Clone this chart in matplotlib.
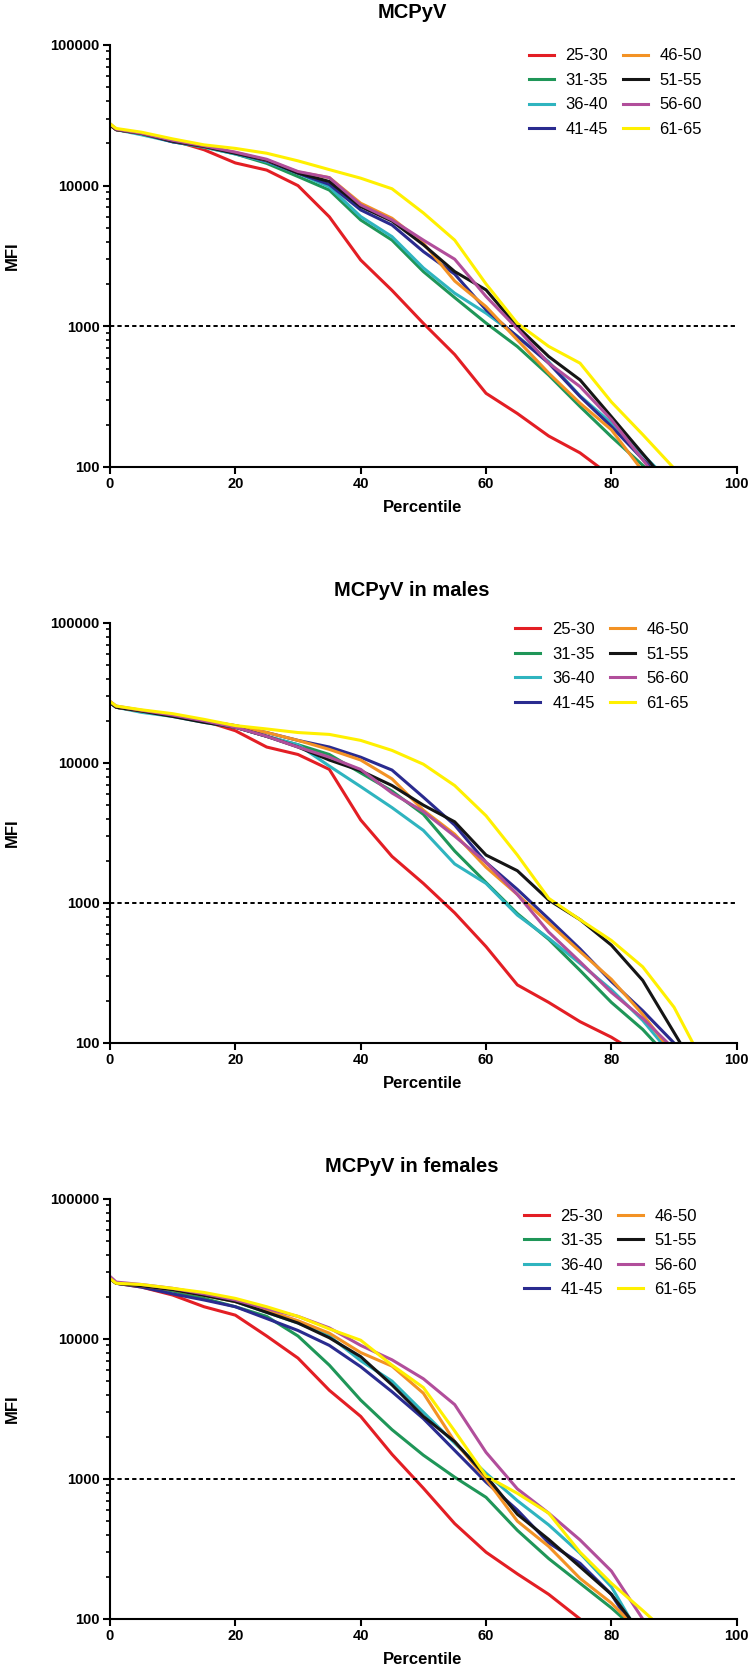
import matplotlib
matplotlib.use("Agg")
import matplotlib.pyplot as plt
from matplotlib.ticker import LogLocator, NullFormatter, FixedLocator

plt.rcParams["font.family"] = ["Liberation Sans", "DejaVu Sans"]

# percentile grid shared by all curves; each curve runs down to MFI = 100 at its end percentile
pct = [0, 1, 5, 10, 15, 20, 25, 30, 35, 40, 45, 50, 55, 60, 65, 70, 75, 80, 85, 90]

groups = ["25-30", "31-35", "36-40", "41-45", "46-50", "51-55", "56-60", "61-65"]
colors = ["#e31e24", "#1f9658", "#2fb4bf", "#2a2b8f", "#f39224", "#151515", "#b14e9b", "#fff000"]

titles = ["MCPyV", "MCPyV in males", "MCPyV in females"]

# MFI values read on the pct grid, one list per age group
all_mfi = [
    [27000, 25000, 23500, 21000, 18000, 14500, 12900, 10000, 6000, 2960, 1800, 1050, 630, 334, 240, 166, 126],
    [27500, 25000, 23500, 20500, 18800, 16800, 14400, 11600, 9300, 5700, 4100, 2450, 1600, 1055, 718, 450, 269, 164],
    [27000, 25000, 23000, 20500, 18800, 16800, 14800, 12250, 9800, 6030, 4340, 2600, 1720, 1240, 850, 560, 320, 205],
    [27000, 25000, 23500, 20500, 19000, 17000, 15000, 12250, 10200, 6720, 5250, 3400, 2350, 1310, 845, 547, 317, 194],
    [27000, 25000, 23500, 20800, 19000, 17200, 15200, 12500, 11400, 7500, 5860, 3900, 2100, 1380, 800, 465, 284, 184],
    [27000, 25000, 23500, 20700, 19000, 17000, 15200, 12300, 10700, 7100, 5600, 3800, 2450, 1815, 995, 610, 416, 228],
    [27500, 25200, 23600, 21000, 19200, 17300, 15400, 12600, 11400, 7300, 5700, 4100, 3000, 1630, 960, 547, 373, 217],
    [27500, 25500, 24000, 21500, 19500, 18400, 17000, 15000, 13000, 11300, 9500, 6400, 4100, 2000, 1050, 720, 547, 290, 170],
]
all_end = [78, 85.3, 87, 86.2, 84.5, 86.8, 85.9, 89.8]

male_mfi = [
    [27000, 25000, 23500, 22000, 20000, 17000, 13000, 11500, 9000, 3920, 2150, 1380, 850, 488, 260, 195, 142, 110],
    [27000, 25000, 23500, 22000, 20000, 18000, 15500, 13500, 11500, 8500, 6300, 4300, 2350, 1400, 840, 550, 330, 195, 125],
    [27000, 25000, 23000, 21500, 19500, 18000, 15500, 13500, 9500, 6780, 4800, 3300, 1900, 1380, 820, 560, 370, 240, 145],
    [27000, 25000, 23500, 22000, 20000, 18500, 16500, 14500, 13000, 11000, 8900, 5700, 3600, 1950, 1250, 770, 470, 275, 170],
    [27500, 25000, 23500, 22000, 20000, 18500, 16500, 14500, 12500, 10500, 7700, 4600, 3100, 1800, 1150, 720, 450, 285, 160],
    [27000, 25000, 23500, 21500, 19500, 18000, 15500, 13000, 10500, 8800, 6900, 5000, 3800, 2200, 1700, 1050, 760, 500, 280],
    [27500, 25500, 23800, 22000, 20000, 18000, 15500, 13000, 11000, 9000, 6100, 4500, 3000, 1950, 1150, 620, 380, 230, 150],
    [27500, 25500, 24000, 22500, 20500, 18500, 17500, 16500, 16000, 14500, 12300, 9800, 6900, 4200, 2200, 1080, 760, 540, 350, 180],
]
male_end = [81.5, 87, 88, 90, 88.5, 91, 89, 93]

female_mfi = [
    [27000, 25000, 23500, 20600, 17000, 14800, 10500, 7300, 4300, 2800, 1500, 860, 480, 300, 210, 150],
    [27000, 25000, 24000, 22000, 19500, 17000, 14500, 10500, 6500, 3660, 2250, 1480, 1030, 740, 430, 270, 180, 120],
    [27000, 25000, 24000, 22500, 20500, 18500, 15500, 13000, 10500, 7000, 5000, 3000, 1800, 1100, 700, 470, 295, 170],
    [27000, 25000, 23500, 21000, 19000, 17000, 14000, 11500, 9000, 6340, 4200, 2700, 1600, 950, 600, 350, 250, 150],
    [27000, 25000, 24000, 22500, 20500, 18500, 16000, 13500, 11000, 8000, 6400, 4100, 1850, 1000, 500, 330, 195, 130],
    [27000, 25000, 24000, 22500, 20500, 18500, 15500, 13000, 10200, 7480, 4700, 2800, 1850, 1050, 560, 370, 236, 150],
    [28000, 25500, 24500, 23000, 21000, 19000, 16500, 14500, 12000, 9000, 7100, 5200, 3400, 1550, 850, 570, 367, 220],
    [27000, 25000, 24500, 23000, 21500, 19500, 17000, 14500, 11800, 9800, 6500, 4500, 2200, 1050, 790, 570, 300, 180, 115],
]
female_end = [75, 82, 83, 82.5, 82.5, 83, 85, 86.5]

panels = [
    (titles[0], all_mfi, all_end),
    (titles[1], male_mfi, male_end),
    (titles[2], female_mfi, female_end),
]

# axes boxes in figure fractions and legend anchors in axes fractions
boxes = [
    [0.1455, 0.7207, 0.829, 0.2524],
    [0.1455, 0.3762, 0.829, 0.2512],
    [0.1455, 0.0317, 0.829, 0.2512],
]
legend_anchor = [(0.668, 0.992), (0.647, 1.002), (0.660, 0.977)]

fig = plt.figure(figsize=(7.56, 16.72), dpi=100)

for i, (title, mfi_lists, ends) in enumerate(panels):
    ax = fig.add_axes(boxes[i])

    for name, col, vals, end in zip(groups, colors, mfi_lists, ends):
        xs = pct[:len(vals)] + [end]
        ys = vals + [100]
        ax.plot(xs, ys, color=col, linewidth=2.2, label=name, solid_joinstyle="round")

    ax.axhline(1000, color="black", linewidth=1.4, linestyle=(0, (2.2, 1.6)))

    ax.set_yscale("log")
    ax.set_xlim(0, 100)
    ax.set_ylim(100, 100000)
    ax.xaxis.set_major_locator(FixedLocator([0, 20, 40, 60, 80, 100]))
    ax.yaxis.set_major_locator(FixedLocator([100, 1000, 10000, 100000]))
    ax.set_yticklabels(["100", "1000", "10000", "100000"])
    ax.yaxis.set_minor_locator(LogLocator(base=10, subs=range(2, 10)))
    ax.yaxis.set_minor_formatter(NullFormatter())

    for side in ["top", "right"]:
        ax.spines[side].set_visible(False)
    for side in ["left", "bottom"]:
        ax.spines[side].set_linewidth(1.5)

    ax.tick_params(axis="both", which="major", direction="out", length=5, width=1.5,
                   labelsize=10.5, pad=2.5)
    ax.tick_params(axis="y", which="minor", direction="out", length=3, width=1.2)
    for lab in ax.get_xticklabels() + ax.get_yticklabels():
        lab.set_fontweight("bold")

    ax.set_xlabel("Percentile", fontsize=12, fontweight="bold")
    ax.set_ylabel("MFI", fontsize=12, fontweight="bold")
    ax.xaxis.set_label_coords(0.498, -0.097)
    ax.xaxis.label.set_va("center")
    ax.yaxis.set_label_coords(-0.155, 0.5)
    ax.yaxis.label.set_va("center")

    ax.text(0.482, 1.077, title, transform=ax.transAxes, ha="center", va="center",
            fontsize=14.5, fontweight="bold")

    ax.legend(ncol=2, loc="upper left", bbox_to_anchor=legend_anchor[i], frameon=False,
              fontsize=12, handlelength=1.5, handletextpad=0.7, columnspacing=0.9,
              labelspacing=0.57, borderpad=0, borderaxespad=0)

fig.savefig("out.png", dpi=100)
